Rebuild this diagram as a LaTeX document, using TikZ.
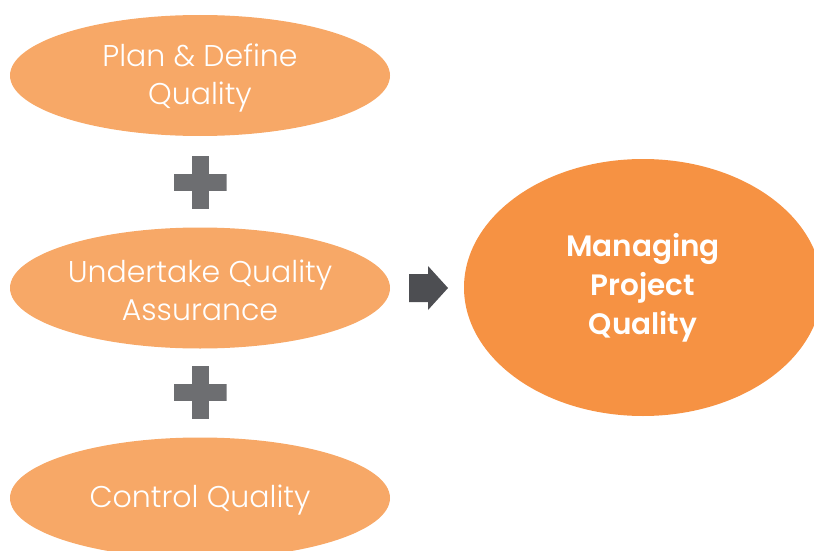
\documentclass[tikz,border=0pt]{standalone}
\usepackage{fontspec}
\setmainfont{Poppins}
\newfontfamily\lightfont{Poppins Light}
\newfontfamily\heavyfont{Poppins SemiBold}
\usetikzlibrary{shapes.geometric}
\definecolor{lightorange}{HTML}{F7A867}
\definecolor{deeporange}{HTML}{F69243}
\definecolor{plusgray}{HTML}{6D6E71}
\definecolor{arrowgray}{HTML}{4D4E52}
\begin{document}
\begin{tikzpicture}[x=1pt,y=-1pt,
  stage/.style={ellipse, fill=lightorange, minimum width=380pt, minimum height=121pt,
    inner sep=0pt},
  stagetext/.style={inner sep=0pt, text=white, align=center, yshift=-2.5pt,
    font=\lightfont\fontsize{30}{38}\selectfont},
  goal/.style={ellipse, fill=deeporange, minimum width=358pt, minimum height=257pt,
    inner sep=0pt, text=white, align=center,
    font=\heavyfont\fontsize{29.5}{39}\selectfont},
  plussign/.style={minimum size=53pt, inner sep=0pt,
    path picture={
      \fill[plusgray] ([xshift=-8.5pt]path picture bounding box.north) rectangle ([xshift=8.5pt]path picture bounding box.south);
      \fill[plusgray] ([yshift=8.5pt]path picture bounding box.west) rectangle ([yshift=-8.5pt]path picture bounding box.east);
    }},
  arrowfill/.style={fill=arrowgray}
]
\useasboundingbox (0,0) rectangle (814,551);
\node[stage, label={[stagetext]center:Plan \& Define\\Quality}] (plan) at (200,75.5) {};
\node[plussign] (plusA) at (200,182) {};
\node[stage, label={[stagetext]center:Undertake Quality\\Assurance}] (assure) at (200,288) {};
\node[plussign] (plusB) at (200,392) {};
\node[stage, label={[stagetext]center:Control Quality}] (control) at (200,498) {};
\node[goal] (manage) at (643,287.5) {Managing\\Project\\Quality};
\fill[arrowfill] (409,274) -- (428,274) -- (428,266) -- (448,288) -- (428,310) -- (428,302) -- (409,302) -- cycle;
\end{tikzpicture}
\end{document}
